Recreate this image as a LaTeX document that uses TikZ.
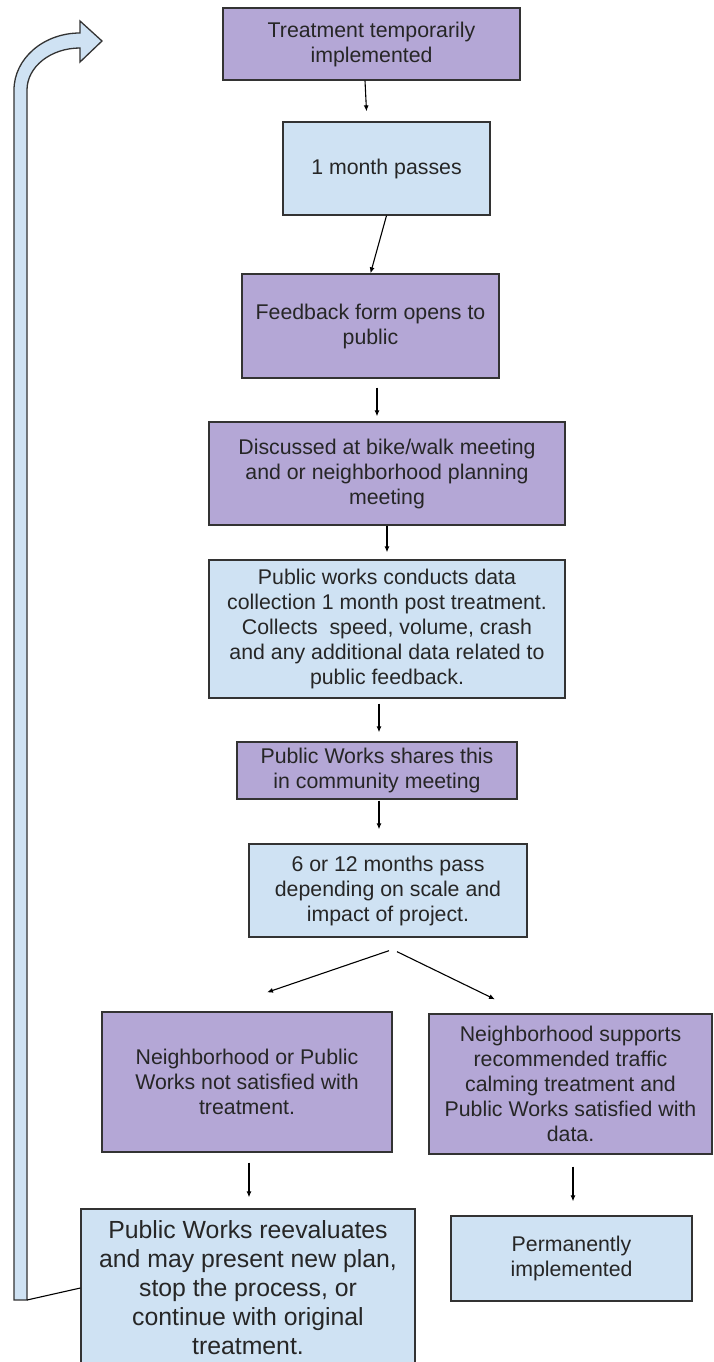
\documentclass[tikz,border=0pt]{standalone}
\usepackage{fontspec}
\setmainfont{Liberation Sans}
\usepackage{xcolor}
\usepackage{tikz}
\usetikzlibrary{arrows.meta}

\definecolor{lilac}{HTML}{B4A7D6}
\definecolor{skyblue}{HTML}{CFE2F3}

\begin{document}
\begin{tikzpicture}[x=1pt,y=-1pt,
  purplebox/.style={shape=rectangle,draw=black!80,line width=1.3pt,fill=lilac,text=black!85,align=center,inner sep=0pt,font=\fontsize{21.3}{25}\selectfont},
  bluebox/.style={purplebox,fill=skyblue},
  arr/.style={-{Latex[length=6pt,width=5pt]},line width=1.1pt}]
\useasboundingbox (0,0) rectangle (713,1362);

\draw[line width=1.3pt,draw=black!80,fill=skyblue] (14,1300) -- (14,90) .. controls (14,58.5) and (43.6,33) .. (80,33) -- (80,21) -- (102,41) -- (80,62) -- (80,48) .. controls (50.7,48) and (27,66.8) .. (27,90) -- (27,1300) -- cycle;
\coordinate (loopend) at (27,1300);

\node[purplebox,minimum width=297pt,minimum height=72pt] (1) at (371.5,44) {Treatment temporarily\\implemented};
\node[bluebox,minimum width=207pt,minimum height=93pt] (2) at (386.5,168.5) {1 month passes};
\node[purplebox,minimum width=257pt,minimum height=104pt] (3) at (370.5,326) {Feedback form opens to\\public};
\node[purplebox,minimum width=356pt,minimum height=103pt] (4) at (387,473.5) {Discussed at bike/walk meeting\\and or neighborhood planning\\meeting};
\node[bluebox,minimum width=356pt,minimum height=138pt] (5) at (387,629) {Public works conducts data\\collection 1 month post treatment.\\Collects\ \ speed, volume, crash\\and any additional data related to\\public feedback.};
\node[purplebox,minimum width=280pt,minimum height=57pt] (6) at (377,770.5) {Public Works shares this\\in community meeting};
\node[bluebox,minimum width=278pt,minimum height=93pt] (7) at (388,890.5) {6 or 12 months pass\\depending on scale and\\impact of project.};

\node[purplebox,minimum width=290pt,minimum height=140pt] (8) at (247,1082) {Neighborhood or Public\\Works not satisfied with\\treatment.};
\node[purplebox,minimum width=283pt,minimum height=140pt] (9) at (570.5,1084) {Neighborhood supports\\recommended traffic\\calming treatment and\\Public Works satisfied with\\data.};
\node[bluebox,minimum width=334pt,minimum height=158pt,font=\fontsize{24.8}{29}\selectfont] (10) at (248,1288) {Public Works reevaluates\\and may present new plan,\\stop the process, or\\continue with original\\treatment.};
\node[bluebox,minimum width=241pt,minimum height=85pt] (11) at (571.5,1258.5) {Permanently\\implemented};

\path[arr,shorten >=10pt] ([xshift=-6.5]1.south) edge ([xshift=-19.5]2.north);
\path[arr] (2.south) edge (3.north);
\path[arr,shorten <=9pt,shorten >=5pt] ([xshift=6.5]3.south) edge ([xshift=-10]4.north);
\path[arr,shorten >=7pt] (4.south) edge (5.north);
\path[arr,shorten <=5pt,shorten >=9pt] ([xshift=-8]5.south) edge ([xshift=2]6.north);
\path[arr,shorten <=1pt,shorten >=14pt] ([xshift=2]6.south) edge ([xshift=-9]7.north);
\path[arr] ([xshift=1,yshift=-13]7.south) edge ([xshift=20,yshift=19]8.north);
\path[arr] ([xshift=9,yshift=-14]7.south) edge ([xshift=-75.5,yshift=14]9.north);
\path[arr,shorten <=10pt,shorten >=11pt] ([xshift=2]8.south) edge ([xshift=1]10.north);
\path[arr,shorten <=12pt,shorten >=14pt] ([xshift=2.5]9.south) edge ([xshift=1.5]11.north);

\path[-,line width=1.1pt] (10.west) edge (loopend);
\end{tikzpicture}
\end{document}
